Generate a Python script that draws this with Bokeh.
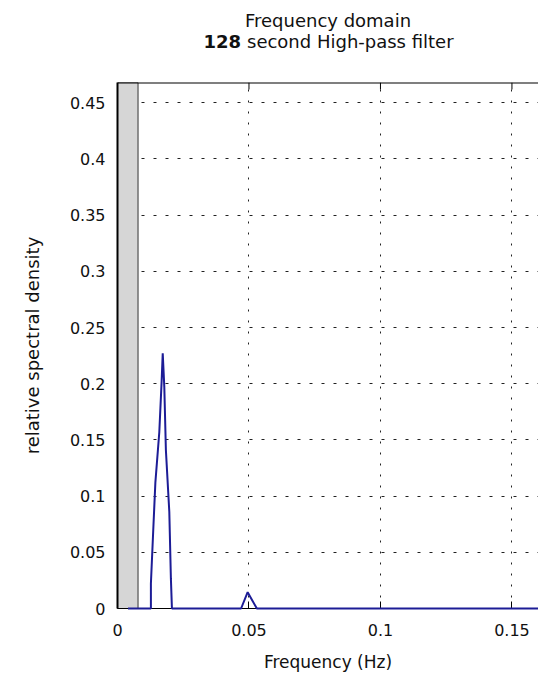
from bokeh.plotting import figure
from bokeh.models import Range1d, Label, FixedTicker, Span
from bokeh.embed import file_html
from bokeh.resources import INLINE

# Spectrum of the filtered regressor (frequency in Hz, relative density)
freq = [0.0040, 0.0127, 0.0127, 0.0136, 0.0144, 0.0159, 0.0168, 0.0172,
        0.0178, 0.0184, 0.0197, 0.0203, 0.0207, 0.0470, 0.0495, 0.0530, 0.1650]
density = [0.0, 0.0, 0.022, 0.070, 0.112, 0.157, 0.203, 0.227,
           0.197, 0.141, 0.086, 0.027, 0.0, 0.0, 0.0145, 0.0, 0.0]

# High-pass cut-off of a 128 s filter
hp_cutoff = 1.0 / 128.0

x_ticks = [0, 0.05, 0.1, 0.15]
x_tick_labels = ["0", "0.05", "0.1", "0.15"]
y_ticks = [0, 0.05, 0.1, 0.15, 0.2, 0.25, 0.3, 0.35, 0.4, 0.45]
y_tick_labels = ["0", "0.05", "0.1", "0.15", "0.2", "0.25", "0.3", "0.35", "0.4", "0.45"]

x_start, x_end = 0.0, 0.1601
y_start, y_end = 0.0, 0.468

FONT = "DejaVu Sans"
INK = "#111111"

p = figure(width=538, height=684, output_backend="svg", toolbar_location=None,
           x_range=Range1d(x_start, x_end), y_range=Range1d(y_start, y_end),
           min_border_left=117, min_border_right=0, min_border_top=82,
           min_border_bottom=76, background_fill_color="white",
           border_fill_color="white", outline_line_color=None)

# bottom axis
xa = p.xaxis[0]
xa.ticker = FixedTicker(ticks=x_ticks)
xa.major_label_overrides = {t: s for t, s in zip(x_ticks, x_tick_labels)}
xa.major_tick_in = 7
xa.major_tick_out = 0
xa.minor_tick_line_color = None
xa.axis_line_color = "black"
xa.major_label_standoff = 15
xa.major_label_text_font = FONT
xa.major_label_text_font_size = "16px"
xa.major_label_text_color = INK
xa.axis_label = "Frequency (Hz)"
xa.axis_label_text_font = FONT
xa.axis_label_text_font_size = "17px"
xa.axis_label_text_font_style = "normal"
xa.axis_label_text_color = INK
xa.axis_label_standoff = 13

# left axis
ya = p.yaxis[0]
ya.ticker = FixedTicker(ticks=y_ticks)
ya.major_label_overrides = {t: s for t, s in zip(y_ticks, y_tick_labels)}
ya.major_tick_in = 0
ya.major_tick_out = 0
ya.minor_tick_line_color = None
ya.axis_line_color = "black"
ya.axis_line_width = 2
ya.major_label_standoff = 12
ya.major_label_text_font = FONT
ya.major_label_text_font_size = "16px"
ya.major_label_text_color = INK
ya.axis_label = "relative spectral density"
ya.axis_label_text_font = FONT
ya.axis_label_text_font_size = "18px"
ya.axis_label_text_font_style = "normal"
ya.axis_label_text_color = INK
ya.axis_label_standoff = 24

# dotted grid
p.xgrid.ticker = FixedTicker(ticks=x_ticks)
p.ygrid.ticker = FixedTicker(ticks=y_ticks)
p.xgrid.grid_line_color = "#222222"
p.ygrid.grid_line_color = "#222222"
p.xgrid.grid_line_dash = "2 9"
p.ygrid.grid_line_dash = "3 9"

# frequencies removed by the high-pass filter
p.quad(left=[x_start], right=[hp_cutoff], bottom=[y_start], top=[y_end],
       fill_color="#d6d6d6", line_color="#333333", line_width=1)

# top edge of the box with inward tick marks
p.add_layout(Span(location=y_end, dimension="width", line_color="black", line_width=2))
p.ray(x=x_ticks[1:], y=[y_end] * (len(x_ticks) - 1), length=7, length_units="screen",
      angle=-90, angle_units="deg", line_color="black", line_width=1)

spec = p.line(freq, density, line_color="#1c1c96", line_width=2)
spec.level = "overlay"

# two-line title, second line with a bold prefix
x_mid = (x_start + x_end) / 2
p.add_layout(Label(x=x_mid, y=y_end, y_offset=62, text="Frequency domain",
                   text_align="center", text_baseline="middle",
                   text_font=FONT, text_font_size="18px", text_color=INK), "above")
p.add_layout(Label(x=x_mid, y=y_end, x_offset=-87, y_offset=41, text="128",
                   text_align="right", text_baseline="middle", text_font_style="bold",
                   text_font=FONT, text_font_size="18px", text_color=INK), "above")
p.add_layout(Label(x=x_mid, y=y_end, x_offset=-81, y_offset=41,
                   text="second High-pass filter",
                   text_align="left", text_baseline="middle",
                   text_font=FONT, text_font_size="18px", text_color=INK), "above")

open("out.html", "w").write(file_html(p, INLINE))
